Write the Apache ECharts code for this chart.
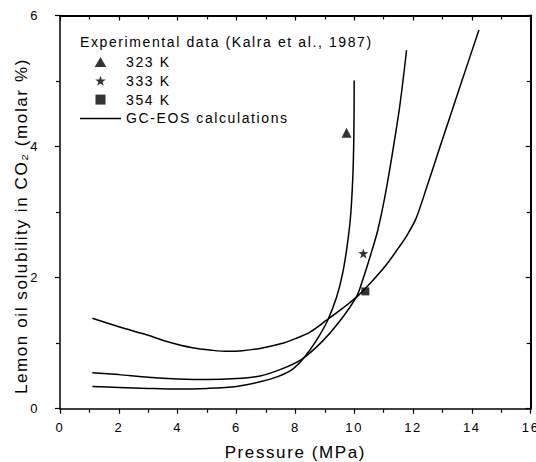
<!DOCTYPE html>
<html>
<head>
<meta charset="utf-8">
<script src="https://cdn.jsdelivr.net/npm/echarts@6/dist/echarts.min.js"></script>
<style>
  html, body { margin: 0; padding: 0; background: #fff; }
  #chart { width: 536px; height: 462px; }
  /* the reference text is set wide */
  #chart text { letter-spacing: 1.6px; }
</style>
</head>
<body>
<div id="chart"></div>
<script>
// GC-EOS curves, [pressure MPa, solubility molar %]
var curve323 = [[1.1,0.34],[2,0.325],[3,0.31],[4,0.30],[5,0.31],[6,0.34],[6.8,0.41],[7.4,0.49],[7.9,0.6],
  [8.3,0.78],[8.7,1.03],[9.1,1.35],[9.4,1.7],[9.6,2.05],[9.75,2.45],[9.87,2.9],[9.95,3.5],[9.99,4.2],[10.0,5.01]];
var curve333 = [[1.1,0.55],[2,0.52],[3,0.48],[4,0.455],[5,0.445],[6,0.46],[6.8,0.5],[7.5,0.6],[8.2,0.75],
  [8.9,1.02],[9.5,1.33],[10.08,1.71],[10.3,1.98],[10.54,2.32],[10.8,2.72],[11.05,3.25],[11.3,3.9],
  [11.55,4.62],[11.78,5.47]];
var curve354 = [[1.1,1.38],[2,1.25],[3,1.12],[3.6,1.03],[4.5,0.93],[5.2,0.89],[5.7,0.875],[6.2,0.885],
  [6.8,0.92],[7.5,0.99],[8,1.07],[8.5,1.17],[9.06,1.35],[9.6,1.53],[10.1,1.71],[10.6,1.94],[11.1,2.2],
  [11.5,2.45],[11.8,2.65],[12.1,2.9],[12.46,3.37],[12.92,4.0],[13.6,4.92],[14.24,5.78]];

// Kalra et al., 1987
var exp323 = [[9.74,4.21]];
var exp333 = [[10.31,2.37]];
var exp354 = [[10.38,1.79]];

var seriesNames = ['323 K', '333 K', '354 K', 'GC-EOS calculations'];
var xTicks = { min: 0, max: 16, interval: 2 };
var yTicks = { min: 0, max: 6, interval: 2 };

var trianglePath = 'path://M5,0L10,8.6L0,8.6Z';
var starPath = 'path://M0,-10L2.35,-3.24L9.51,-3.09L3.8,1.24L5.88,8.09L0,4L-5.88,8.09L-3.8,1.24L-9.51,-3.09L-2.35,-3.24Z';
var squarePath = 'path://M0,0H10V10H0Z';
var linePath = 'path://M0,0H40V1.5H0Z';
var font = 'Liberation Sans, Arial, sans-serif';

var chart = echarts.init(document.getElementById('chart'), null, { renderer: 'svg' });

function axisBase (pos, ticks, inside, showLabel, lw) {
  return {
    type: 'value',
    position: pos,
    min: ticks.min, max: ticks.max, interval: ticks.interval,
    axisLine: { show: true, onZero: false, lineStyle: { color: '#000', width: lw } },
    axisTick: { show: true, inside: inside, length: 5, lineStyle: { color: '#000', width: 1.2 } },
    minorTick: { show: true, splitNumber: 2, length: 4, lineStyle: { color: '#000', width: 1.2 } },
    splitLine: { show: false },
    axisLabel: { show: showLabel, color: '#000', fontSize: 13, fontFamily: font, margin: 12 }
  };
}

var xBottom = axisBase('bottom', xTicks, false, true, 1.5);
xBottom.name = 'Pressure (MPa)';
xBottom.nameLocation = 'middle';
xBottom.nameGap = 35;
xBottom.nameTextStyle = { color: '#000', fontSize: 17, fontFamily: font };
var xTop = axisBase('top', xTicks, true, false, 2);

var yLeft = axisBase('left', yTicks, false, true, 1.5);
yLeft.axisLabel.margin = 21;
yLeft.name = 'Lemon oil solubility in CO\u2082 (molar %)';
yLeft.nameLocation = 'middle';
yLeft.nameGap = 30;
yLeft.nameMoveOverlap = false;
yLeft.nameTextStyle = { color: '#000', fontSize: 17, fontFamily: font, padding: [0, 28, 0, 0] };
var yRight = axisBase('right', yTicks, true, false, 2);

function lineSeries (data) {
  return {
    name: seriesNames[3], type: 'line', data: data,
    xAxisIndex: 0, yAxisIndex: 0,
    symbol: 'none', smooth: 0.3,
    lineStyle: { color: '#000', width: 1.5 },
    itemStyle: { color: '#000' }
  };
}

function pointSeries (name, data, symbol, size) {
  return {
    name: name, type: 'scatter', data: data,
    xAxisIndex: 0, yAxisIndex: 0,
    symbol: symbol, symbolSize: size,
    itemStyle: { color: '#000' }
  };
}

chart.setOption({
  animation: false,
  backgroundColor: '#fff',
  grid: { left: 60, right: 5.3, top: 15.5, bottom: 53.3, outerBoundsMode: 'none' },
  title: {
    text: 'Experimental data (Kalra et al., 1987)',
    left: 80, top: 35, padding: 0,
    textStyle: { color: '#000', fontSize: 14, fontWeight: 'normal', fontFamily: font }
  },
  legend: {
    data: [
      { name: seriesNames[0], icon: trianglePath },
      { name: seriesNames[1], icon: starPath },
      { name: seriesNames[2], icon: squarePath },
      { name: seriesNames[3], icon: linePath }
    ],
    orient: 'vertical',
    left: 80, top: 55, padding: 0,
    itemWidth: 41, itemHeight: 10, itemGap: 4.8,
    textStyle: { color: '#000', fontSize: 14, lineHeight: 14, fontFamily: font }
  },
  xAxis: [xBottom, xTop],
  yAxis: [yLeft, yRight],
  series: [
    lineSeries(curve323),
    lineSeries(curve333),
    lineSeries(curve354),
    pointSeries(seriesNames[0], exp323, trianglePath, 10),
    pointSeries(seriesNames[1], exp333, starPath, 10),
    pointSeries(seriesNames[2], exp354, squarePath, 8)
  ]
});
</script>
</body>
</html>
